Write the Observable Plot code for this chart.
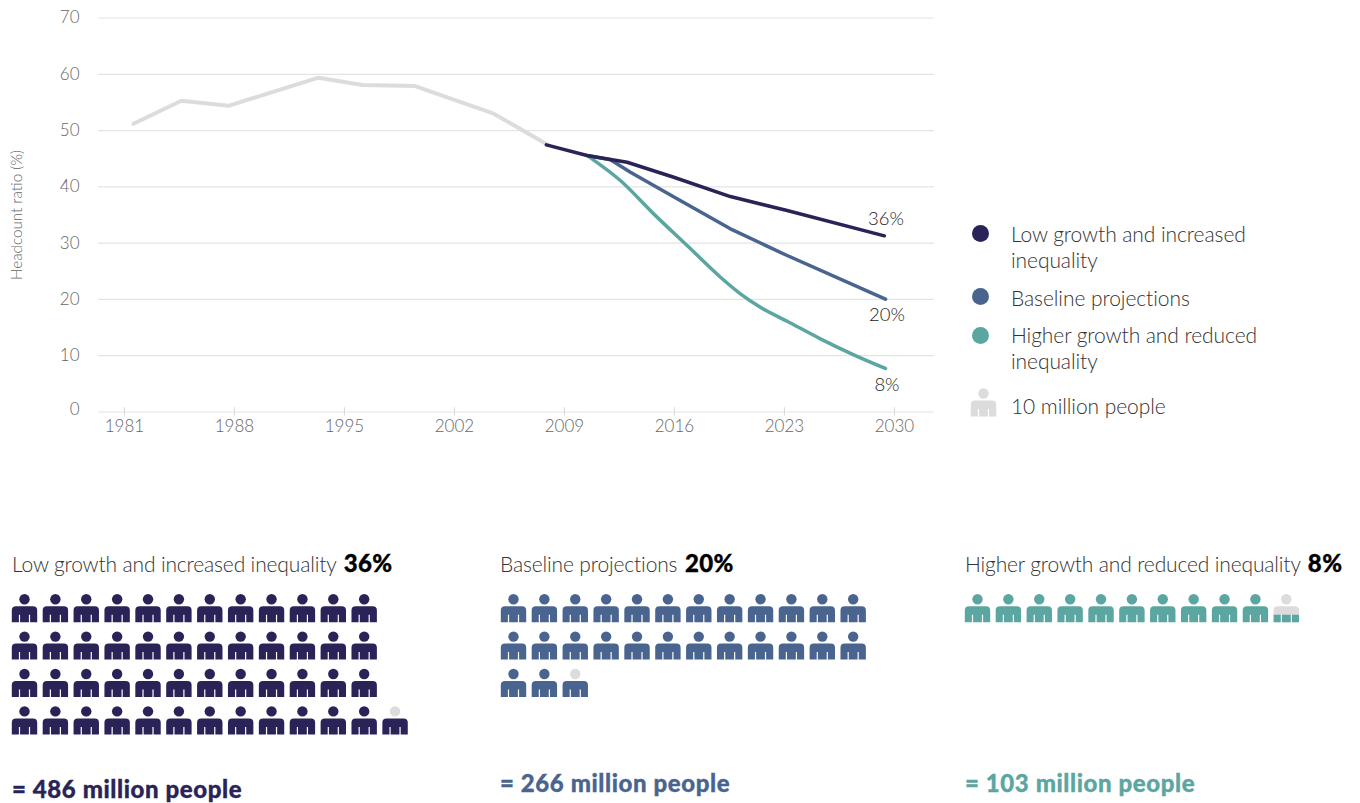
<!DOCTYPE html>
<html><head><meta charset="utf-8">
<script src="https://cdn.jsdelivr.net/npm/d3@7"></script>
<script src="https://cdn.jsdelivr.net/npm/@observablehq/plot@0.6"></script>
<style>
html,body{margin:0;padding:0;background:#fff}
#root{position:relative;width:1360px;height:803px;overflow:hidden;font-family:Lato,"Open Sans",sans-serif;font-weight:300}
#root svg{position:absolute;background:transparent;overflow:visible}
.t{position:absolute;white-space:nowrap;color:#333;font-size:21px;line-height:26px;letter-spacing:-.15px}
.l{letter-spacing:-.08px}
.t b{font-weight:900;color:#000;font-size:24px;letter-spacing:.4px;margin-left:2px;-webkit-text-stroke:.35px #000}
.m{position:absolute;white-space:nowrap;font-size:24px;line-height:28px;font-weight:900;letter-spacing:.6px;-webkit-text-stroke:.35px currentColor}
.d{position:absolute;width:17px;height:17px;border-radius:50%}
</style></head><body><div id="root"></div>
<script>
const historyYears=[1981.57,1984.63,1987.62,1993.35,1996.15,1999.5,2004.5,2007.93];
const historyValues=[51.2,55.3,54.4,59.4,58.1,57.9,53.0,47.5];
const lowYears=[2007.85,2010.44,2012.99,2015.96,2019.56,2023.17,2029.36];
const lowValues=[47.46,45.56,44.37,41.71,38.28,35.79,31.3];
const baseYears=[2010.44,2011.93,2013.2,2016.17,2019.56,2023.17,2029.43];
const baseValues=[45.56,44.8,42.6,37.87,32.54,27.8,20.04];
const highYears=[2010.55,2012.56,2014.68,2016.81,2018.93,2020.2,2021.47,2023.17,2025.29,2027.41,2029.43];
const highValues=[45.38,41.12,35.2,29.57,23.94,21.0,18.6,16.13,13.0,10.16,7.73];
const xTicks=[1981,1988,1995,2002,2009,2016,2023,2030];
const yTicks=[0,10,20,30,40,50,60,70];
const scenarioNames=["Low growth and increased inequality","Baseline projections","Higher growth and reduced inequality"];
const scenarioPct=[36,20,8];
const scenarioMillions=[486,266,103];
const scenarioColors=["#2a2357","#49658f","#5ba6a1"];
const grey="#dcdcdc";
const root=document.getElementById("root");

const toPts=(xs,ys)=>xs.map((x,i)=>({x,y:ys[i]}));
const ends=[
  {x:lowYears.at(-1),y:lowValues.at(-1),t:scenarioPct[0]+"%",dy:-17},
  {x:baseYears.at(-1),y:baseValues.at(-1),t:scenarioPct[1]+"%",dy:16},
  {x:highYears.at(-1),y:highValues.at(-1),t:scenarioPct[2]+"%",dy:17}
];
const axisFont={fill:"#666",fontSize:17,fontWeight:300};

const main=Plot.plot({
  width:950,height:450,marginLeft:98,marginRight:16,marginTop:17.5,marginBottom:38.5,
  style:{fontFamily:"Lato,sans-serif",fontWeight:300,background:"transparent"},
  x:{domain:[1979.35,2032.55]},
  y:{domain:[0,70]},
  marks:[
    Plot.ruleY(yTicks,{stroke:"#e4e4e4",strokeWidth:1.2}),
    Plot.ruleX(xTicks,{x:d=>d,y1:0,y2:0.75,stroke:"#d8d8d8"}),
    Plot.axisX({ticks:xTicks,tickFormat:"d",tickSize:4,tickPadding:4,stroke:"#d8d8d8",label:null,...axisFont}),
    Plot.axisY({ticks:yTicks.slice(1),tickSize:0,tickPadding:19,label:null,...axisFont}),
    Plot.axisY({ticks:yTicks.slice(0,1),tickSize:0,tickPadding:19,dy:-2,label:null,...axisFont}),
    Plot.line(toPts(historyYears,historyValues),{x:"x",y:"y",stroke:grey,strokeWidth:4}),
    Plot.line(toPts(highYears,highValues),{x:"x",y:"y",stroke:scenarioColors[2],strokeWidth:3.5,curve:"monotone-x"}),
    Plot.line(toPts(baseYears,baseValues),{x:"x",y:"y",stroke:scenarioColors[1],strokeWidth:3.5,strokeLinejoin:"round"}),
    Plot.line(toPts(lowYears,lowValues),{x:"x",y:"y",stroke:scenarioColors[0],strokeWidth:3.5,strokeLinejoin:"round"}),
    ...ends.map(e=>Plot.text([e],{x:"x",y:"y",text:"t",dy:e.dy,dx:1.5,fontSize:18.5,fontWeight:300,fill:"#222"})),
    Plot.text(["Headcount ratio (%)"],{frameAnchor:"left",text:d=>d,rotate:-90,textAnchor:"middle",dx:-81,fontSize:15.2,fontWeight:300,fill:"#666"})
  ]
});
main.style.left="0px";main.style.top="0px";root.append(main);

// person symbols, anchored on the centre of the head
const body={draw(c,size){const s=Math.sqrt(size/Math.PI);const p=(x,y)=>[x*s,y*s];
  c.moveTo(...p(-12.7,23));c.lineTo(...p(-12.7,11));c.quadraticCurveTo(...p(-12.7,7),...p(-8.5,7));
  c.lineTo(...p(8.5,7));c.quadraticCurveTo(...p(12.7,7),...p(12.7,11));c.lineTo(...p(12.7,23));
  c.lineTo(...p(5.6,23));c.lineTo(...p(5.6,15.5));c.lineTo(...p(4.4,15.5));c.lineTo(...p(4.4,23));
  c.lineTo(...p(-4.4,23));c.lineTo(...p(-4.4,15.5));c.lineTo(...p(-5.6,15.5));c.lineTo(...p(-5.6,23));c.closePath();}};
const lower={draw(c,size){const s=Math.sqrt(size/Math.PI);const p=(x,y)=>[x*s,y*s];
  c.moveTo(...p(-12.7,23));c.lineTo(...p(-12.7,15.5));c.lineTo(...p(-5.6,15.5));c.lineTo(...p(-5.6,23));c.closePath();
  c.moveTo(...p(-4.4,23));c.lineTo(...p(-4.4,15.5));c.lineTo(...p(4.4,15.5));c.lineTo(...p(4.4,23));c.closePath();
  c.moveTo(...p(5.6,23));c.lineTo(...p(5.6,15.5));c.lineTo(...p(12.7,15.5));c.lineTo(...p(12.7,23));c.closePath();}};
const head={draw(c,size){const s=Math.sqrt(size/Math.PI);c.moveTo(5.2*s,0);c.arc(0,0,5.2*s,0,2*Math.PI);c.closePath();}};
const dot=(data,symbol,fill)=>Plot.dot(data,{x:"c",y:"r",symbol,r:1,fill});

const panelHead=[23.5,512.5,976.5];
const panelText=[12,500,965];
const panelCols=13,rowLen=12;
scenarioMillions.forEach((m,k)=>{
  const n=Math.ceil(m/10),frac=m/10-Math.floor(m/10),col=scenarioColors[k];
  const icons=d3.range(n).map(i=>i<rowLen*4?{c:i%rowLen,r:Math.floor(i/rowLen),i}:{c:rowLen,r:3,i});
  const partial=icons.filter(d=>d.i===n-1);
  const full=icons.filter(d=>d.i<n-1);
  const coloredBody=frac>=.5;
  const svg=Plot.plot({
    width:440,height:170,margin:0,
    x:{domain:[0,panelCols],range:[20,20+30.88*panelCols],axis:null},
    y:{domain:[0,4],range:[8.7,8.7+37.4*4],axis:null},
    marks:[
      dot(full,body,col),dot(full,head,col),
      dot(partial,body,coloredBody?col:grey),dot(partial,head,grey),
      coloredBody?null:dot(partial,lower,col)
    ]
  });
  svg.style.left=(panelHead[k]-20)+"px";svg.style.top="590px";root.append(svg);
  const t=document.createElement("div");t.className="t";
  t.style.left=panelText[k]+"px";t.style.top="550px";
  t.innerHTML=scenarioNames[k]+" <b>"+scenarioPct[k]+"%</b>";root.append(t);
  const b=document.createElement("div");b.className="m";b.style.color=col;
  b.style.left=panelText[k]+"px";b.style.top=[775,769,769][k]+"px";
  b.textContent="= "+m+" million people";root.append(b);
});

// legend
const legendRows=[[scenarioNames[0].replace(" increased "," increased\n"),221],[scenarioNames[1],285],[scenarioNames[2].replace(" reduced "," reduced\n"),322]];
legendRows.forEach(([txt,top],k)=>{
  const d=document.createElement("div");d.className="d";d.style.background=scenarioColors[k];
  d.style.left="972px";d.style.top=[225,288,327][k]+"px";root.append(d);
  const t=document.createElement("div");t.className="t l";t.style.whiteSpace="pre";t.style.left="1011px";t.style.top=top+"px";t.textContent=txt;root.append(t);
});
const li=Plot.plot({width:40,height:40,margin:0,x:{domain:[0,1],range:[14,15],axis:null},y:{domain:[0,1],range:[8,9],axis:null},
  marks:[dot([{c:0,r:0}],body,grey),dot([{c:0,r:0}],head,grey)]});
li.style.left="969px";li.style.top="385px";root.append(li);
const lt=document.createElement("div");lt.className="t l";lt.style.left="1011px";lt.style.top="393px";lt.textContent="10 million people";root.append(lt);
</script></body></html>
